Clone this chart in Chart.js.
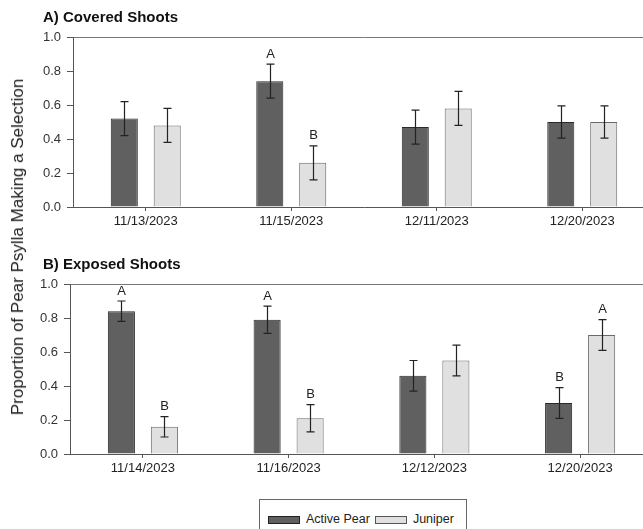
<!DOCTYPE html>
<html>
<head>
<meta charset="utf-8">
<script src="https://cdn.jsdelivr.net/npm/chart.js@4"></script>
<style>
  body { margin: 0; background: #fff; font-family: "Liberation Sans", Arial, sans-serif; }
  #wrap { position: relative; width: 643px; height: 529px; overflow: hidden; background: #fff; }
  canvas { position: absolute; left: 0; }
  #cA { top: 0; }
  #cB { top: 247px; }
  .ptitle { position: absolute; left: 43px; font-weight: bold; font-size: 15px; color: #111; line-height: 1; }
  #ytitle { position: absolute; left: 18px; top: 247px; transform: translate(-50%, -50%) rotate(-90deg);
            white-space: nowrap; font-size: 17px; color: #222; }
  #legend { position: absolute; left: 259px; top: 499px; height: 40px; border: 1px solid #666;
            display: flex; align-items: flex-start; padding: 12px 7px 0 8px; box-sizing: border-box;
            font-size: 12.5px; color: #222; }
  .sw { width: 30px; height: 6px; margin-top: 4px; border: 1px solid #222; }
  .lab { margin: 0 5px 0 6px; line-height: 15px; }
</style>
</head>
<body>
<div id="wrap">
  <canvas id="cA" width="655" height="237"></canvas>
  <canvas id="cB" width="653" height="237"></canvas>
  <div class="ptitle" style="top:9px">A) Covered Shoots</div>
  <div class="ptitle" style="top:256px">B) Exposed Shoots</div>
  <div id="ytitle">Proportion of Pear Psylla Making a Selection</div>
  <div id="legend">
    <div class="sw" style="background:#606060"></div><span class="lab">Active Pear</span>
    <div class="sw" style="background:#e0e0e0;border-color:#555"></div><span class="lab">Juniper</span>
  </div>
</div>
<script>
// A) covered shoots
const datesA = ['11/13/2023', '11/15/2023', '12/11/2023', '12/20/2023'];
const pearA = [0.52, 0.74, 0.47, 0.50];
const pearErrA = [0.10, 0.10, 0.10, 0.095];
const juniperA = [0.48, 0.26, 0.58, 0.50];
const juniperErrA = [0.10, 0.10, 0.10, 0.095];
const pearLetA = ['', 'A', '', ''];
const juniperLetA = ['', 'B', '', ''];

// B) exposed shoots
const datesB = ['11/14/2023', '11/16/2023', '12/12/2023', '12/20/2023'];
const pearB = [0.84, 0.79, 0.46, 0.30];
const pearErrB = [0.06, 0.08, 0.09, 0.09];
const juniperB = [0.16, 0.21, 0.55, 0.70];
const juniperErrB = [0.06, 0.08, 0.09, 0.09];
const pearLetB = ['A', 'A', '', 'B'];
const juniperLetB = ['B', 'B', '', 'A'];

const yTicks = [0, 0.2, 0.4, 0.6, 0.8, 1.0];

const font = "'Liberation Sans', Arial, sans-serif";

const errorBars = {
    id: 'errorBars',
    afterDatasetsDraw(chart) {
        const ctx = chart.ctx;
        const y = chart.scales.y;
        chart.data.datasets.forEach(function (ds, i) {
            const meta = chart.getDatasetMeta(i);
            meta.data.forEach(function (bar, j) {
                const v = ds.data[j];
                const e = ds.errors[j];
                const top = y.getPixelForValue(v + e);
                const bot = y.getPixelForValue(v - e);
                const x = Math.round(bar.x) + 0.5;
                ctx.save();
                ctx.strokeStyle = '#222';
                ctx.lineWidth = 1.2;
                ctx.beginPath();
                ctx.moveTo(x, top);
                ctx.lineTo(x, bot);
                ctx.moveTo(x - 4, top);
                ctx.lineTo(x + 4, top);
                ctx.moveTo(x - 4, bot);
                ctx.lineTo(x + 4, bot);
                ctx.stroke();
                if (ds.letters[j]) {
                    ctx.fillStyle = '#222';
                    ctx.font = '13px ' + font;
                    ctx.textAlign = 'center';
                    ctx.textBaseline = 'middle';
                    ctx.fillText(ds.letters[j], x, top - 10);
                }
                ctx.restore();
            });
        });
    }
};

function makeChart(id, labels, pear, pearErr, pearLet, jun, junErr, junLet, axisWidth) {
    return new Chart(document.getElementById(id), {
        type: 'bar',
        data: {
            labels: labels,
            datasets: [
                {
                    label: 'Active Pear', data: pear, errors: pearErr, letters: pearLet,
                    backgroundColor: '#606060', borderColor: '#2a2a2a', borderWidth: 1,
                    categoryPercentage: 0.59, barPercentage: 0.63
                },
                {
                    label: 'Juniper', data: jun, errors: junErr, letters: junLet,
                    backgroundColor: '#e0e0e0', borderColor: '#6a6a6a', borderWidth: 1,
                    categoryPercentage: 0.59, barPercentage: 0.63
                }
            ]
        },
        options: {
            responsive: false,
            animation: false,
            layout: { padding: { top: 37, left: 0, right: 0, bottom: 0 } },
            plugins: { legend: { display: false }, tooltip: { enabled: false } },
            scales: {
                x: {
                    grid: { drawOnChartArea: false, offset: false, tickLength: 4, tickColor: '#555' },
                    border: { color: '#555' },
                    ticks: { font: { family: font, size: 13 }, color: '#222', padding: 3, maxRotation: 0 },
                    afterFit: function (s) { s.height = 30; }
                },
                y: {
                    min: 0, max: 1,
                    afterBuildTicks: function (s) { s.ticks = yTicks.map(v => ({ value: v })); },
                    grid: {
                        color: c => (c.tick && Math.abs(c.tick.value - 1) < 1e-6) ? '#777' : 'rgba(0,0,0,0)',
                        tickColor: '#555', tickLength: 6
                    },
                    border: { color: '#555' },
                    ticks: {
                        font: { family: font, size: 13 }, color: '#333', padding: 6,
                        callback: v => Number(v).toFixed(1)
                    },
                    afterFit: function (s) { s.width = axisWidth; }
                }
            }
        },
        plugins: [errorBars]
    });
}

makeChart('cA', datesA, pearA, pearErrA, pearLetA, juniperA, juniperErrA, juniperLetA, 73);
makeChart('cB', datesB, pearB, pearErrB, pearLetB, juniperB, juniperErrB, juniperLetB, 70);
</script>
</body>
</html>
